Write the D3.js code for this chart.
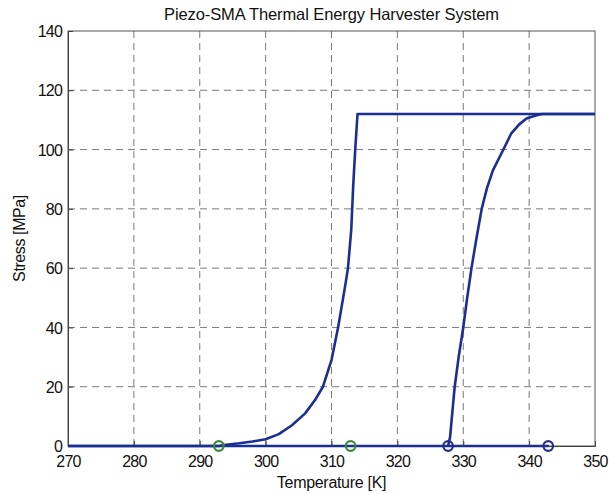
<!DOCTYPE html>
<html><head><meta charset="utf-8">
<script src="https://cdn.jsdelivr.net/npm/d3@7"></script>
<style>
html,body{margin:0;padding:0;background:#fff;}
svg{display:block;font-family:"Liberation Sans",Arial,sans-serif;}
</style></head>
<body><svg id="c" width="609" height="494"></svg>
<script>
// Data
const xTicks = [270,280,290,300,310,320,330,340,350];
const yTicks = [0,20,40,60,80,100,120,140];
// heating branch (left curve) then flat top
const heatT = [270,292.9,294,296,298,300,302,304,306,307.5,308.7,310,311,312,312.5,313,313.3,313.6,313.95,350];
const heatS = [0,0,0.4,0.9,1.5,2.3,4,7,11,15.5,20,29,40,53,60,73,88,100,112,112];
// cooling branch (right curve)
const coolT = [327.7,328.0,328.7,329.3,330.0,330.6,331.25,332.0,332.8,333.6,334.5,336.0,337.3,338.5,339.6,341.0,342.0,350];
const coolS = [0,3,20,30,40,50,60,70,80,87,93,99.6,105.5,108.5,110.5,111.5,112,112];
// bottom base line
const baseT = [270,343];
const baseS = [0,0];
// state markers
const greenT = [292.9,312.9];
const greenS = [0,0];
const blueT = [327.7,342.9];
const blueS = [0,0];

const W=609,H=494, m={l:68,r:14,t:31,b:48};
const svg=d3.select("#c");
const x=d3.scaleLinear().domain([270,350]).range([m.l,W-m.r]);
const y=d3.scaleLinear().domain([0,140]).range([H-m.b,m.t]);

// grid
const g=svg.append("g");
g.selectAll(".vg").data(xTicks.slice(1,-1)).join("line")
 .attr("x1",d=>x(d)).attr("x2",d=>x(d)).attr("y1",y(0)).attr("y2",y(140))
 .attr("stroke","#7a7a7a").attr("stroke-width",1).attr("stroke-dasharray","7,5");
g.selectAll(".hg").data(yTicks.slice(1,-1)).join("line")
 .attr("y1",d=>y(d)).attr("y2",d=>y(d)).attr("x1",x(270)).attr("x2",x(350))
 .attr("stroke","#7a7a7a").attr("stroke-width",1).attr("stroke-dasharray","7,5");

// box
svg.append("rect").attr("x",x(270)).attr("y",y(140)).attr("width",x(350)-x(270)).attr("height",y(0)-y(140))
 .attr("fill","none").attr("stroke","#555").attr("stroke-width",1);

// axes
const xa=svg.append("g").attr("transform",`translate(0,${y(0)})`)
 .call(d3.axisBottom(x).tickValues(xTicks).tickSize(-5).tickPadding(10).tickFormat(d3.format("d")));
const ya=svg.append("g").attr("transform",`translate(${x(270)},0)`)
 .call(d3.axisLeft(y).tickValues(yTicks).tickSize(-5).tickPadding(6).tickFormat(d3.format("d")));
[xa,ya].forEach(a=>{
 a.select(".domain").attr("stroke","#444");
 a.selectAll(".tick line").attr("stroke","#444");
 a.selectAll("text").attr("font-size","16px").attr("fill","#111").attr("letter-spacing","-0.8px")
  .attr("font-family","'Liberation Sans',Arial,sans-serif");
});
xa.selectAll("text").attr("dy","0.71em");
ya.selectAll("text").attr("dy","0.35em");

const line=d3.line().x(d=>x(d[0])).y(d=>y(d[1]));
const col="#1a2f92";
function path(T,S){
 svg.append("path").datum(T.map((t,i)=>[t,S[i]])).attr("d",line)
  .attr("fill","none").attr("stroke",col).attr("stroke-width",2.6).attr("stroke-linejoin","round");
}
path(baseT,baseS);
path(heatT,heatS);
path(coolT,coolS);

function markers(T,S,c){
 svg.append("g").selectAll("circle").data(T.map((t,i)=>[t,S[i]])).join("circle")
  .attr("cx",d=>x(d[0])).attr("cy",d=>y(d[1])).attr("r",4.8)
  .attr("fill","none").attr("stroke",c).attr("stroke-width",2.2);
}
markers(greenT,greenS,"#3b8a36");
markers(blueT,blueS,"#2a2d8c");

// titles
svg.append("text").attr("x",(x(270)+x(350))/2).attr("y",20).attr("text-anchor","middle")
 .attr("font-size","16.5px").attr("letter-spacing","-0.1px").attr("fill","#111")
 .text("Piezo-SMA Thermal Energy Harvester System");
svg.append("text").attr("x",(x(270)+x(350))/2).attr("y",488).attr("text-anchor","middle")
 .attr("font-size","16px").attr("letter-spacing","-0.3px").attr("fill","#111")
 .text("Temperature [K]");
svg.append("text").attr("transform",`translate(25,${(y(0)+y(140))/2}) rotate(-90)`).attr("text-anchor","middle")
 .attr("font-size","16px").attr("letter-spacing","-0.4px").attr("fill","#111")
 .text("Stress [MPa]");
</script></body></html>
